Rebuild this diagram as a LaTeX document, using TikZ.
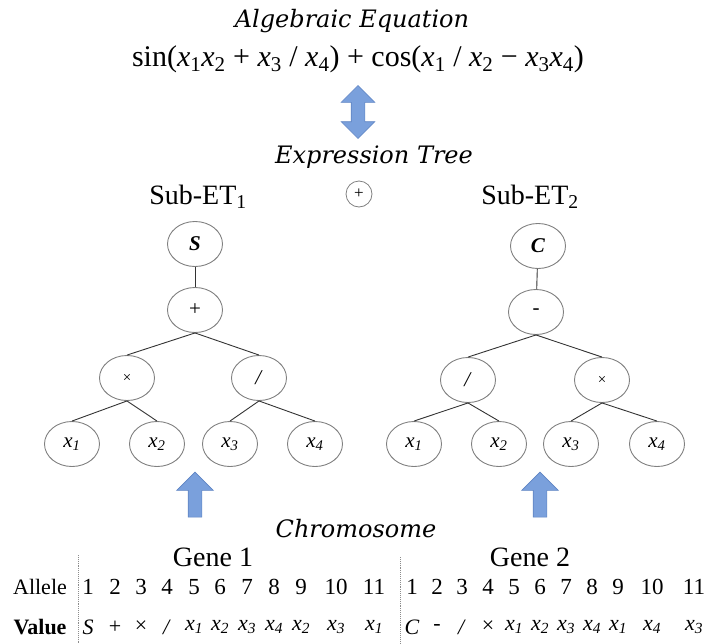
\documentclass[tikz,border=0pt]{standalone}
\usepackage{fontspec}
\setmainfont{Liberation Serif}
\newfontfamily\capfont{DejaVu Serif}
\usetikzlibrary{shapes.geometric,shapes.arrows,positioning}
\definecolor{arrowblue}{RGB}{122,160,220}
\definecolor{arrowedge}{RGB}{95,132,195}
\newcommand{\xv}[1]{\textit{x}\textsubscript{\textit{#1}}}
\newcommand{\xe}[1]{\textit{x}\textsubscript{#1}}
\tikzset{
  etnode/.style={ellipse,draw=black!50,line width=0.9pt,minimum width=55pt,minimum height=45pt,inner sep=0pt,font=\fontsize{21}{24}\selectfont},
  edge/.style={draw=black!80,line width=0.9pt},
  caption/.style={font=\capfont\itshape\fontsize{24}{28}\selectfont},
  bigarrow/.style={draw=arrowedge,fill=arrowblue,line width=0.6pt,rotate=90,inner sep=6.5pt},
  cell/.style={font=\fontsize{23}{26}\selectfont,inner sep=0pt}
}

\begin{document}
\begin{tikzpicture}[x=1pt,y=-1pt]
    \useasboundingbox (0,0) rectangle (711,643);

    % Equation and the arrow down to the tree.
    \node[caption] (alg) at (352,21) {Algebraic Equation};
    \node[font=\fontsize{30}{34}\selectfont] (eq) at (358,59)
      {sin(\xe1\xe2 + \xe3 / \xe4) + cos(\xe1 / \xe2 − \xe3\xe4)};
    \node[bigarrow,double arrow,minimum height=53pt,minimum width=33pt,
      double arrow head extend=10pt] (dbl) at (358,112) {};
    \node[caption] (expr) at (374,157) {Expression Tree};

    % Sub-tree labels and the joining plus.
    \node[font=\fontsize{28}{32}\selectfont] (sub1) at (198,197) {Sub-ET\textsubscript{1}};
    \node[font=\fontsize{28}{32}\selectfont] (sub2) at (530,197) {Sub-ET\textsubscript{2}};
    \node[circle,draw=black!50,line width=0.8pt,minimum size=26pt,inner sep=0pt,
      font=\fontsize{17}{17}\selectfont] (join) at (359,194) {+};

    % Left sub-tree.
    \node[etnode] (s1) at (195,244) {\textbf{\textit{S}}};
    \node[etnode] (p1) at (195,310) {+};
    \node[etnode] (m1) at (127,378) {\fontsize{15}{15}\selectfont ×};
    \node[etnode] (d1) at (259,378) {\textit{/}};
    \node[etnode] (la1) at (72,444) {\xv1};
    \node[etnode] (la2) at (157,444) {\xv2};
    \node[etnode] (la3) at (230,444) {\xv3};
    \node[etnode] (la4) at (315,444) {\xv4};
    \draw[edge] (s1) -- (p1);
    \draw[edge] (p1.south) -- (m1.north);
    \draw[edge] (p1.south) -- (d1.north);
    \draw[edge] (m1.south) -- (la1.north);
    \draw[edge] (m1.south) -- (la2.north);
    \draw[edge] (d1.south) -- (la3.north);
    \draw[edge] (d1.south) -- (la4.north);

    % Right sub-tree.
    \node[etnode] (c2) at (538,246) {\textbf{\textit{C}}};
    \node[etnode] (n2) at (536,312) {-};
    \node[etnode] (d2) at (468,380) {\textit{/}};
    \node[etnode] (m2) at (602,380) {\fontsize{15}{15}\selectfont ×};
    \node[etnode] (lb1) at (414,444) {\xv1};
    \node[etnode] (lb2) at (499,444) {\xv2};
    \node[etnode] (lb3) at (571,444) {\xv3};
    \node[etnode] (lb4) at (657,444) {\xv4};
    \draw[edge] (c2) -- (n2);
    \draw[edge] (n2.south) -- (d2.north);
    \draw[edge] (n2.south) -- (m2.north);
    \draw[edge] (d2.south) -- (lb1.north);
    \draw[edge] (d2.south) -- (lb2.north);
    \draw[edge] (m2.south) -- (lb3.north);
    \draw[edge] (m2.south) -- (lb4.north);

    % Arrows up from the genes.
    \node[bigarrow,single arrow,minimum height=45pt,minimum width=36pt,
      single arrow head extend=11.5pt] (up1) at (195,498) {};
    \node[bigarrow,single arrow,minimum height=45pt,minimum width=36pt,
      single arrow head extend=11.5pt] (up2) at (540,498) {};

    % Chromosome table.
    \node[caption] (chrom) at (356,529) {Chromosome};
    \node[font=\fontsize{28}{32}\selectfont] (gene1) at (213,557) {Gene 1};
    \node[font=\fontsize{28}{32}\selectfont] (gene2) at (530,557) {Gene 2};
    \node[font=\fontsize{22}{26}\selectfont] (allele) at (40,587) {Allele};
    \node[font=\fontsize{22}{26}\selectfont\bfseries] (value) at (40,627) {Value};
    \coordinate (sep1) at (78,555);
    \coordinate (sep2) at (400,557);
    \draw[black!45,densely dotted,line width=0.9pt] (sep1) -- (sep1 |- 0,643);
    \draw[black!45,densely dotted,line width=0.9pt] (sep2) -- (sep2 |- 0,643);

    \foreach \x/\v [count=\i] in {88/\textit{S},115/+,141/×,167/\textit{/},194/\xv1,220/\xv2,247/\xv3,274/\xv4,301/\xv2,336/\xv3,374/\xv1} {
      \node[cell] (ga\i) at (\x,587) {\i};
      \node[cell,font=\fontsize{22}{26}\selectfont] (gv\i) at (\x,627) {\v};
    }
    \foreach \x/\v [count=\i] in {412/\textit{C},437/-,462/\textit{/},488/×,514/\xv1,540/\xv2,566/\xv3,592/\xv4,618/\xv1,652/\xv4,694/\xv3} {
      \node[cell] (ha\i) at (\x,587) {\i};
      \node[cell,font=\fontsize{22}{26}\selectfont] (hv\i) at (\x,627) {\v};
    }

\end{tikzpicture}
\end{document}
